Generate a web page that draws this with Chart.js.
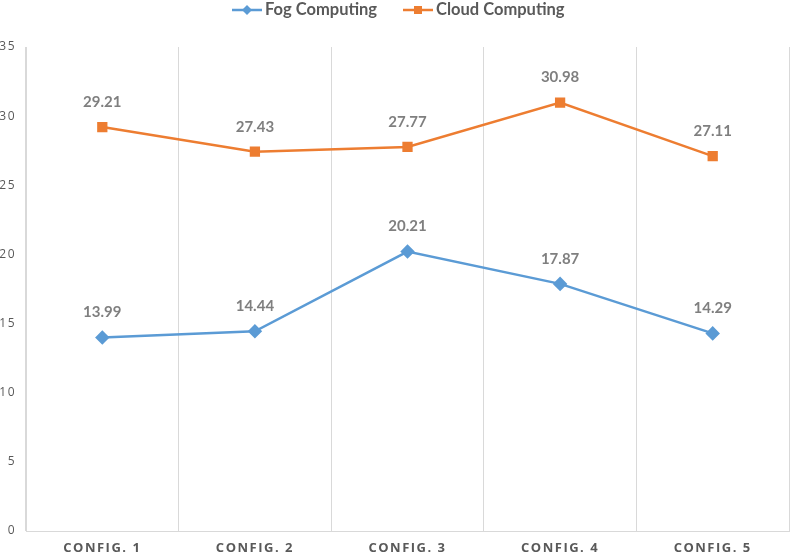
<!DOCTYPE html>
<html>
<head>
<meta charset="utf-8">
<script src="https://cdn.jsdelivr.net/npm/chart.js@4"></script>
<style>
  html, body { margin: 0; padding: 0; background: #fff; overflow: hidden; }
  canvas { display: block; }
</style>
</head>
<body>
<canvas id="chart" width="797" height="559"></canvas>
<script>
const categories = ["CONFIG. 1", "CONFIG. 2", "CONFIG. 3", "CONFIG. 4", "CONFIG. 5"];
const fogValues   = [13.99, 14.44, 20.21, 17.87, 14.29];
const cloudValues = [29.21, 27.43, 27.77, 30.98, 27.11];
const yTicks = [0, 5, 10, 15, 20, 25, 30, 35];

const BLUE = "#5B9BD5", ORANGE = "#ED7D31", GRID = "#d9d9d9", TXT = "#595959";

// value labels above each point
const valueLabels = {
  id: "valueLabels",
  afterDatasetsDraw(chart) {
    const ctx = chart.ctx;
    ctx.save();
    ctx.letterSpacing = "0px";
    ctx.font = "bold 15px Lato";
    ctx.fillStyle = "#7f7f7f";
    ctx.textAlign = "center";
    ctx.textBaseline = "middle";
    chart.data.datasets.forEach((ds, i) => {
      chart.getDatasetMeta(i).data.forEach((pt, j) => {
        ctx.fillText(ds.data[j].toFixed(2), pt.x, pt.y - 25);
      });
    });
    ctx.restore();
  }
};

// legend: line + marker + text at the top
const lineLegend = {
  id: "lineLegend",
  afterDraw(chart) {
    const ctx = chart.ctx;
    ctx.save();
    ctx.letterSpacing = "0px";
    ctx.font = "bold 16.5px Lato";
    ctx.textBaseline = "middle";
    const y = 10;
    const items = [
      { x: 232, color: BLUE, label: "Fog Computing", style: "diamond" },
      { x: 403, color: ORANGE, label: "Cloud Computing", style: "square" }
    ];
    items.forEach(it => {
      ctx.strokeStyle = it.color;
      ctx.lineWidth = 2.5;
      ctx.beginPath();
      ctx.moveTo(it.x, y);
      ctx.lineTo(it.x + 30, y);
      ctx.stroke();
      ctx.fillStyle = it.color;
      const cx = it.x + 15;
      if (it.style === "diamond") {
        ctx.beginPath();
        ctx.moveTo(cx, y - 5); ctx.lineTo(cx + 5, y); ctx.lineTo(cx, y + 5); ctx.lineTo(cx - 5, y);
        ctx.closePath(); ctx.fill();
      } else {
        ctx.fillRect(cx - 4, y - 4, 8, 8);
      }
      ctx.fillStyle = TXT;
      ctx.textAlign = "left";
      ctx.fillText(it.label, it.x + 33, y);
    });
    ctx.restore();
  }
};

const spacing = {
  id: "spacing",
  beforeDraw(chart) { chart.ctx.letterSpacing = "1.5px"; }
};

new Chart(document.getElementById("chart").getContext("2d"), {
  type: "line",
  data: {
    labels: categories,
    datasets: [
      { label: "Fog Computing", data: fogValues, borderColor: BLUE, backgroundColor: BLUE,
        borderWidth: 2.5, pointStyle: "rectRot", pointRadius: 5.5, pointHoverRadius: 5.5, tension: 0 },
      { label: "Cloud Computing", data: cloudValues, borderColor: ORANGE, backgroundColor: ORANGE,
        borderWidth: 2.5, pointStyle: "rect", pointRadius: 5.5, pointHoverRadius: 5.5, tension: 0 }
    ]
  },
  options: {
    responsive: false,
    animation: false,
    layout: { padding: { top: 47, right: 0, left: 0, bottom: 0 } },
    plugins: { legend: { display: false }, tooltip: { enabled: false } },
    scales: {
      x: {
        offset: true,
        grid: { offset: true, color: GRID, lineWidth: 1, drawTicks: false },
        border: { color: GRID },
        ticks: { color: TXT, font: { family: "Open Sans", weight: "bold", size: 13 }, padding: 9, maxRotation: 0 },
        afterFit: s => { s.height = 28; s.paddingLeft = 0; s.paddingRight = 0; }
      },
      y: {
        min: 0, max: 35,
        afterBuildTicks: s => { s.ticks = yTicks.map(v => ({ value: v })); },
        grid: { display: false, drawTicks: false },
        border: { color: GRID },
        ticks: { color: TXT, font: { family: "Open Sans", size: 12 }, padding: 10 },
        afterFit: s => { s.width = 26; s.paddingTop = 0; s.paddingBottom = 0; }
      }
    }
  },
  plugins: [spacing, valueLabels, lineLegend]
});
</script>
</body>
</html>
